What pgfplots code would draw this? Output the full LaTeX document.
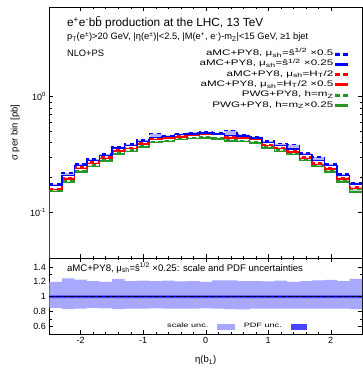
\documentclass[border=0pt]{standalone}
\usepackage{fontspec}
\setmainfont{Liberation Sans}
\newfontfamily\legfont[FakeStretch=1.45]{Liberation Sans}
\usepackage{pgfplots}
\pgfplotsset{compat=1.18}
\usepackage{pgfplotstable}
\usepgfplotslibrary{fillbetween}

\definecolor{gpblue}{RGB}{0,0,255}
\definecolor{gpred}{RGB}{255,0,0}
\definecolor{gpgreen}{RGB}{40,150,40}
\definecolor{scaleblue}{RGB}{168,168,255}
\definecolor{pdfblue}{RGB}{70,70,255}

\pgfplotstableread{
x bd bs rd rs gd gs
-2.5 0.176 0.170 0.160 0.157 0.155 0.151
-2.3 0.218 0.207 0.200 0.193 0.187 0.180
-2.1 0.262 0.253 0.246 0.238 0.230 0.222
-1.9 0.289 0.280 0.272 0.263 0.256 0.248
-1.7 0.320 0.309 0.300 0.292 0.284 0.276
-1.5 0.370 0.359 0.346 0.338 0.325 0.318
-1.3 0.388 0.378 0.362 0.356 0.344 0.336
-1.1 0.422 0.410 0.395 0.388 0.374 0.366
-0.9 0.480 0.445 0.432 0.425 0.410 0.400
-0.7 0.462 0.452 0.440 0.437 0.418 0.410
-0.5 0.482 0.471 0.458 0.450 0.433 0.425
-0.3 0.490 0.478 0.468 0.462 0.442 0.435
-0.1 0.492 0.484 0.476 0.470 0.448 0.440
0.1 0.486 0.478 0.472 0.470 0.440 0.432
0.3 0.510 0.462 0.450 0.440 0.425 0.415
0.5 0.470 0.456 0.445 0.440 0.418 0.410
0.7 0.452 0.441 0.430 0.425 0.404 0.395
0.9 0.412 0.400 0.385 0.377 0.367 0.358
1.1 0.392 0.378 0.364 0.356 0.344 0.336
1.3 0.385 0.354 0.338 0.330 0.325 0.315
1.5 0.326 0.315 0.300 0.292 0.288 0.280
1.7 0.300 0.280 0.265 0.258 0.256 0.248
1.9 0.262 0.253 0.242 0.235 0.230 0.222
2.1 0.215 0.207 0.198 0.193 0.190 0.183
2.3 0.180 0.176 0.166 0.160 0.158 0.150
2.5 0.180 0.176 0.166 0.160 0.158 0.150
}\maindata

\pgfplotstableread{
x su sl pu pl
-2.5 1.200 0.850 1.02 0.98
-2.3 1.245 0.835 1.02 0.98
-2.1 1.230 0.840 1.02 0.98
-1.9 1.210 0.850 1.02 0.98
-1.7 1.200 0.845 1.02 0.98
-1.5 1.235 0.835 1.02 0.98
-1.3 1.210 0.840 1.02 0.98
-1.1 1.215 0.840 1.02 0.98
-0.9 1.210 0.845 1.02 0.98
-0.7 1.215 0.840 1.02 0.98
-0.5 1.205 0.840 1.02 0.98
-0.3 1.210 0.840 1.02 0.98
-0.1 1.200 0.845 1.02 0.98
0.1 1.220 0.840 1.02 0.98
0.3 1.220 0.835 1.02 0.98
0.5 1.210 0.830 1.02 0.98
0.7 1.210 0.840 1.02 0.98
0.9 1.205 0.840 1.02 0.98
1.1 1.215 0.840 1.02 0.98
1.3 1.200 0.840 1.02 0.98
1.5 1.210 0.840 1.02 0.98
1.7 1.220 0.840 1.02 0.98
1.9 1.225 0.840 1.02 0.98
2.1 1.210 0.840 1.02 0.98
2.3 1.240 0.835 1.02 0.98
2.5 1.240 0.835 1.02 0.98
}\ratiodata

\newcommand{\mush}{μ\textsubscript{sh}}
\newcommand{\shat}{ŝ\textsuperscript{1/2}}
\tikzset{
  bdash/.style={draw=gpblue, line width=1.6pt, dash pattern=on 4pt off 3.5pt},
  bsol/.style={draw=gpblue, line width=1.6pt},
  rdash/.style={draw=gpred, line width=1.6pt, dash pattern=on 4pt off 3.5pt},
  rsol/.style={draw=gpred, line width=1.6pt},
  gdash/.style={draw=gpgreen, line width=1.6pt, dash pattern=on 4pt off 3.5pt},
  gsol/.style={draw=gpgreen, line width=1.6pt},
}
\newcommand{\legsol}[1]{\addlegendimage{legend image code/.code={\fill[#1] (0pt,-1pt) rectangle (12.5pt,1pt);}}}
\newcommand{\legdash}[1]{\addlegendimage{legend image code/.code={\fill[#1] (0pt,-1pt) rectangle (4pt,1pt) (8.5pt,-1pt) rectangle (12.5pt,1pt);}}}

\begin{document}
\begin{tikzpicture}
\pgfplotsset{
  every axis/.append style={
    scale only axis, width=312.5pt,
    xmin=-2.5, xmax=2.5,
    tick align=inside, tick pos=both,
    xtick={-2,-1,0,1,2}, minor x tick num=4,
    major tick length=4pt, minor tick length=2.2pt,
    every tick/.style={black, line width=0.5pt},
    axis line style={line width=0.8pt},
    tick label style={font=\fontsize{9}{10}\selectfont},
    /pgf/number format/assume math mode=true,
  }
}
\begin{axis}[
  name=main, height=251pt,
  ymode=log, ymin=0.04, ymax=6,
  ytick={0.1,1}, yticklabels={10\textsuperscript{-1},10\textsuperscript{0}},
  xticklabels={},
  ylabel={σ per bin [pb]},
  ylabel style={at={(axis description cs:-0.110,0.5)}, anchor=center, font=\fontsize{9.5}{11}\selectfont},
  legend style={at={(rel axis cs:0.955,0.836)}, anchor=north east, draw=none, fill=none,
    font=\legfont\fontsize{8}{8}\selectfont, row sep=-0.5pt, inner sep=0pt,
    nodes={inner sep=1.5pt, text height=5.8pt, text depth=2pt}},
  legend cell align=right, legend plot pos=right,
]
\coordinate (tl) at (rel axis cs:0,1);
% bands
\addplot[const plot, draw=none, name path=bd, forget plot] table[x=x,y=bd]{\maindata};
\addplot[const plot, draw=none, name path=bs, forget plot] table[x=x,y=bs]{\maindata};
\addplot[const plot, draw=none, name path=rd, forget plot] table[x=x,y=rd]{\maindata};
\addplot[const plot, draw=none, name path=rs, forget plot] table[x=x,y=rs]{\maindata};
\addplot[const plot, draw=none, name path=gd, forget plot] table[x=x,y=gd]{\maindata};
\addplot[const plot, draw=none, name path=gs, forget plot] table[x=x,y=gs]{\maindata};
\addplot[fill=gpgreen, fill opacity=0.3, draw=none, forget plot] fill between[of=gd and gs];
\addplot[fill=gpred, fill opacity=0.25, draw=none, forget plot] fill between[of=rd and rs];
\addplot[fill=gpblue, fill opacity=0.3, draw=none, forget plot] fill between[of=bd and bs];
% lines
\addplot[const plot, gsol, forget plot] table[x=x,y=gs]{\maindata};
\addplot[const plot, gdash, forget plot] table[x=x,y=gd]{\maindata};
\addplot[const plot, rsol, forget plot] table[x=x,y=rs]{\maindata};
\addplot[const plot, rdash, forget plot] table[x=x,y=rd]{\maindata};
\addplot[const plot, bsol, forget plot] table[x=x,y=bs]{\maindata};
\addplot[const plot, bdash, forget plot] table[x=x,y=bd]{\maindata};
\addplot[gsol, forget plot] coordinates {(-2.5,0.01) (-2.5,0.151)};
% legend
\legdash{gpblue}
\addlegendentry{aMC+PY8, \mush=\shat\ ×0.5}
\legsol{gpblue}
\addlegendentry{aMC+PY8, \mush=\shat\ ×0.25}
\legdash{gpred}
\addlegendentry{aMC+PY8, \mush=H\textsubscript{T}/2}
\legsol{gpred}
\addlegendentry{aMC+PY8, \mush=H\textsubscript{T}/2 ×0.5}
\legdash{gpgreen}
\addlegendentry{PWG+PY8, h=m\textsubscript{Z}}
\legsol{gpgreen}
\addlegendentry{PWG+PY8, h=m\textsubscript{Z}×0.25}
\node[anchor=west, font=\fontsize{11.8}{13}\selectfont] at (rel axis cs:0.045,0.936) {e\textsuperscript{+}e\textsuperscript{-}b\={b} production at the LHC, 13 TeV};
\node[anchor=west, font=\fontsize{9.3}{11}\selectfont] at (rel axis cs:0.045,0.880) {p\textsubscript{T}(e\textsuperscript{±})>20 GeV, |η(e\textsuperscript{±})|<2.5, |M(e\textsuperscript{+}, e\textsuperscript{-})-m\textsubscript{Z}|<15 GeV, ≥1 bjet};
\node[anchor=west, font=\fontsize{9.3}{11}\selectfont] at (rel axis cs:0.045,0.817) {NLO+PS};
\end{axis}
\begin{axis}[
  at={(main.south west)}, anchor=north west, height=76pt,
  ymin=0.5, ymax=1.52,
  ytick={0.6,0.8,1,1.2,1.4}, yticklabels={0.6,0.8,1,1.2,1.4}, minor y tick num=1,
  xlabel={η(b\textsubscript{1})},
  xlabel style={at={(axis description cs:0.5,-0.345)}, anchor=center, font=\fontsize{9.5}{11}\selectfont},
  legend style={at={(rel axis cs:0.596,0.10)}, anchor=center, draw=none, fill=none,
    font=\legfont\fontsize{6.3}{8}\selectfont, legend columns=2, column sep=7pt},
  legend plot pos=right,
]
\coordinate (br) at (rel axis cs:1,0);
\addplot[const plot, draw=none, name path=su, forget plot] table[x=x,y=su]{\ratiodata};
\addplot[const plot, draw=none, name path=sl, forget plot] table[x=x,y=sl]{\ratiodata};
\addplot[const plot, draw=none, name path=pu, forget plot] table[x=x,y=pu]{\ratiodata};
\addplot[const plot, draw=none, name path=pl, forget plot] table[x=x,y=pl]{\ratiodata};
\addplot[fill=scaleblue, draw=none, forget plot] fill between[of=su and sl];
\addplot[fill=pdfblue, draw=none, forget plot] fill between[of=pu and pl];
\addplot[draw=gpblue!80!black, line width=0.8pt, forget plot] coordinates {(-2.5,1) (2.5,1)};
\addplot[draw=black, line width=0.8pt, dash pattern=on 4pt off 3pt, forget plot] coordinates {(-2.5,1) (2.5,1)};
\addlegendimage{legend image code/.code={\fill[scaleblue] (0pt,-2.5pt) rectangle (17pt,2.5pt);}}
\addlegendentry{scale unc.}
\addlegendimage{legend image code/.code={\fill[pdfblue] (0pt,-2.5pt) rectangle (15pt,2.5pt);}}
\addlegendentry{PDF unc.}
\node[anchor=west, font=\fontsize{9.6}{11}\selectfont] at (rel axis cs:0.045,0.868) {aMC+PY8, \mush=\shat\ ×0.25: scale and PDF uncertainties};
\end{axis}
\pgfresetboundingbox
\path[use as bounding box] ([xshift=-49.5pt,yshift=7pt]tl) rectangle ([xshift=0.5pt,yshift=-36pt]br);
\end{tikzpicture}
\end{document}
